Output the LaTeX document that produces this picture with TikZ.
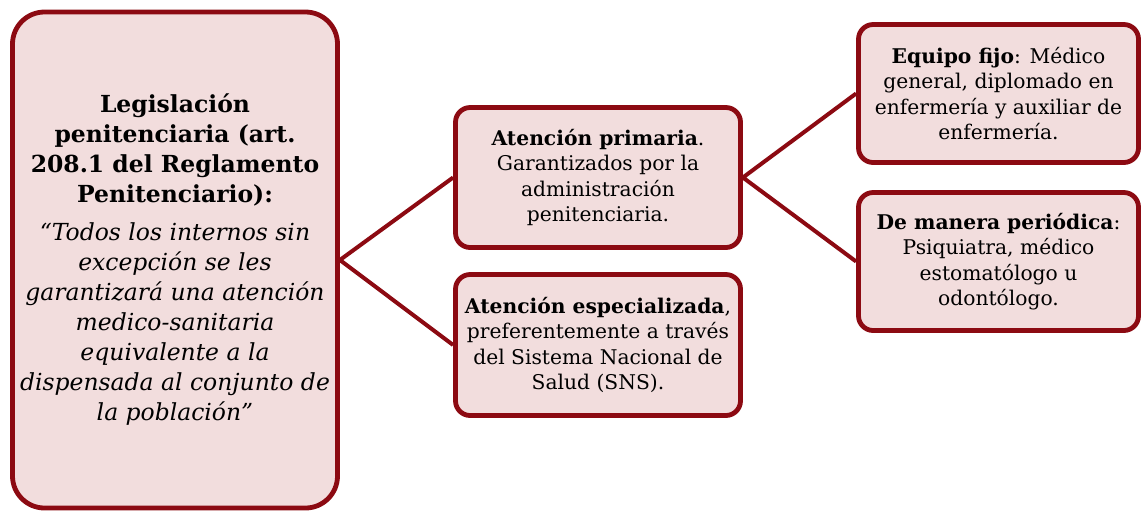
\documentclass[tikz,border=0pt]{standalone}
\usepackage{fontspec}
\setmainfont{DejaVu Serif}
\usetikzlibrary{positioning}
\definecolor{borde}{RGB}{140,10,18}
\definecolor{relleno}{RGB}{242,221,221}
\tikzstyle{block} = [rectangle, draw=borde, fill=relleno, line width=3.6pt,
    align=center, rounded corners=11pt, inner sep=2pt, font=\fontsize{15.2}{19}\selectfont]
\tikzstyle{bigblock} = [block, rounded corners=24pt, font=\fontsize{17.6}{22.5}\selectfont]
\tikzstyle{link} = [draw=borde, line width=3pt]

\begin{document}
\begin{tikzpicture}[x=0.75pt,y=-0.75pt]
  \useasboundingbox (0,0) rectangle (1142,512);

  % left: legislation
  \node[bigblock, minimum width=243.75pt, minimum height=372pt] (leg) at (175,260)
    {\textbf{Legislación}\\ \textbf{penitenciaria (art.}\\ \textbf{208.1 del Reglamento}\\
     \textbf{Penitenciario):}\\[6pt]
     \itshape “Todos los internos sin\\ \itshape excepción se les\\
     \itshape garantizará una atención\\ \itshape medico-sanitaria\\
     \itshape equivalente a la\\ \itshape dispensada al conjunto de\\
     \itshape la población”};

  % middle column
  \node[block, minimum width=213.75pt, minimum height=105pt] (prim) at (598,177.5)
    {\textbf{Atención primaria}.\\ Garantizados por la\\ administración\\ penitenciaria.};
  \node[block, minimum width=213.75pt, minimum height=105.75pt] (espe) at (598,345)
    {\textbf{Atención especializada},\\ preferentemente a través\\ del Sistema Nacional de\\ Salud (SNS).};

  % right column
  \node[block, minimum width=210pt, minimum height=103.5pt] (fijo) at (998.5,93.5)
    {\textbf{Equipo fijo}: Médico\\ general, diplomado en\\ enfermería y auxiliar de\\ enfermería.};
  \node[block, minimum width=210pt, minimum height=103.5pt] (peri) at (998.5,261.5)
    {\textbf{De manera periódica}:\\ Psiquiatra, médico\\ estomatólogo u\\ odontólogo.};

  \path[link] (leg.east) -- (prim.west)
              (leg.east) -- (espe.west)
              (prim.east) -- (fijo.west)
              (prim.east) -- (peri.west);
\end{tikzpicture}
\end{document}
